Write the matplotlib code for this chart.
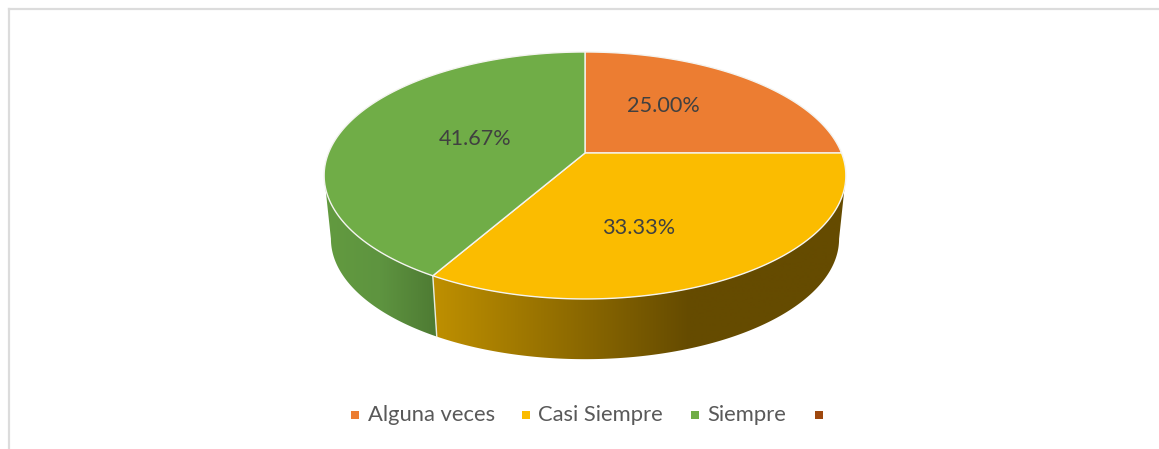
import numpy as np
import matplotlib.pyplot as plt
from matplotlib.colors import to_rgb
from matplotlib.patches import Polygon, Rectangle

# Data
labels = ['Alguna veces', 'Casi Siempre', 'Siempre', '']
values = [25.00, 33.33, 41.67, 0.0]
colors = ['#EC7D32', '#FBBC00', '#70AD47', '#9E480E']

plt.rcParams['font.family'] = ['Lato', 'DejaVu Sans']

fig = plt.figure(figsize=(11.59, 4.49), dpi=100)
ax = fig.add_axes([0, 0, 1, 1])

# Chart frame, only top and left show in the crop
ax.plot([9, 1159], [9, 9], color='#DCDCDC', linewidth=1.6)
ax.plot([9, 9], [9, 449], color='#DCDCDC', linewidth=1.6)

# Perspective projection of the pie disc
CX, CY = 585, 153
A, B, K = 256.5, 119.4, 0.182
BOTTOM_SCALE, BOTTOM_CY = 0.974, 217


def top_disc(theta):
    u, v = np.sin(theta), np.cos(theta)
    return CX + A * u / (1 + K * v), CY - B * v / (1 + K * v)


def bottom_disc(theta):
    u, v = np.sin(theta), np.cos(theta)
    return CX + BOTTOM_SCALE * A * u / (1 + K * v), BOTTOM_CY - BOTTOM_SCALE * B * v / (1 + K * v)


side_stops = {
    1: [(432, '#BF9000'), (690, '#654B00'), (850, '#654B00')],
    2: [(320, '#639B3F'), (380, '#5E9440'), (436, '#4E7B33')],
}

fractions = np.cumsum([0] + values) / sum(values)
angles = 2 * np.pi * fractions

# Side wall, between the widest points of the projected disc
widest_right = np.pi - np.arccos(K)
widest_left = np.pi + np.arccos(K)
for i, stops in side_stops.items():
    start = max(angles[i], widest_right)
    stop = min(angles[i + 1], widest_left)
    t = np.linspace(start, stop, 300)
    xt, yt = top_disc(t)
    xb, yb = bottom_disc(t)
    outline = np.column_stack([np.r_[xt, xb[::-1]], np.r_[yt, yb[::-1]]])
    x0, x1 = stops[0][0], stops[-1][0]
    xs = np.arange(x0, x1 + 1)
    pos, cols = zip(*stops)
    cols = np.array([to_rgb(c) for c in cols])
    grad = np.stack([np.interp(xs, pos, cols[:, k]) for k in range(3)], axis=-1)[np.newaxis, :, :]
    im = ax.imshow(grad, extent=(x0, x1, 400, 100), aspect='auto', interpolation='bilinear')
    clip = Polygon(outline, transform=ax.transData, facecolor='none', edgecolor='none')
    ax.add_patch(clip)
    im.set_clip_path(clip)

ax.set_xlim(0, 1159)
ax.set_ylim(449, 0)
ax.axis('off')

# Seam between the side pieces
seam = angles[2]
xa, ya = top_disc(seam)
xb, yb = bottom_disc(seam)
ax.plot([xa, xb], [ya, yb], color='#E8EDE0', linewidth=1.0)

# Top faces
for i in range(3):
    t = np.linspace(angles[i], angles[i + 1], 200)
    x, y = top_disc(t)
    pts = np.column_stack([np.r_[CX, x], np.r_[CY, y]])
    ax.add_patch(Polygon(pts, facecolor=colors[i], edgecolor='#F4F4F0', linewidth=1.0, joinstyle='round', zorder=3))

# Data labels
label_pos = [(663.5, 106), (639, 228), (475, 139)]
for v, (lx, ly) in zip(values[:3], label_pos):
    ax.text(lx, ly, f'{v:.2f}%', ha='center', va='center', fontsize=15.6, color='#404040', zorder=4)

# Legend
marker_x = [351, 522, 691, 815]
text_x = [368, 538, 707]
for c, mx in zip(colors, marker_x):
    ax.add_patch(Rectangle((mx, 411), 8, 8, facecolor=c, edgecolor='none'))
for lab, tx in zip(labels[:3], text_x):
    ax.text(tx, 415, lab, ha='left', va='center', fontsize=15.8, color='#595959')

plt.savefig('out.png', dpi=100)
